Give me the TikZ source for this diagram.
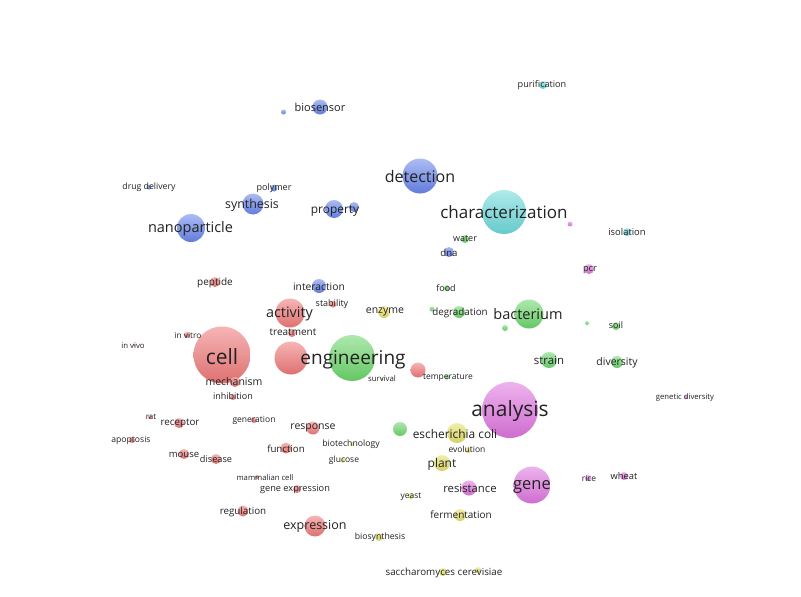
\documentclass[tikz,border=0pt]{standalone}
\usepackage{fontspec}
\setmainfont{Open Sans}
\pgfdeclarelayer{labels}
\pgfsetlayers{main,labels}
\definecolor{kred}{HTML}{EE6A6A}
\definecolor{kgreen}{HTML}{5CD25C}
\definecolor{kblue}{HTML}{5878EA}
\definecolor{kyellow}{HTML}{E4DE58}
\definecolor{kmag}{HTML}{DC66DC}
\definecolor{kcyan}{HTML}{5ED6D6}
\definecolor{ktext}{HTML}{222222}
\tikzset{
  bub/.style={circle, inner sep=0pt, draw=none, top color=#1!55!white, bottom color=#1!92!black, fill opacity=0.9},
  lbl/.style={inner sep=0pt, text=ktext, anchor=center}
}
% circle: name, x, y, radius, colour
\newcommand\kwb[5]{\node[bub=#5, minimum size={2*#4}] (#1) at (#2,#3) {};}
% label: name, x, y, size, text
\newcommand\kwl[5]{\begin{pgfonlayer}{labels}\node[lbl, font=\fontsize{#4}{#4}\selectfont] (#1) at (#2,#3) {#5};\end{pgfonlayer}}
\begin{document}
\begin{tikzpicture}[x=1pt,y=-1pt]
\fill[white] (0,0) rectangle (801,597);
\useasboundingbox (0,0) rectangle (801,597);
% ---------- blue cluster
\kwb{c-biosensor}{320}{107}{7.5}{kblue}\kwl{biosensor}{320}{107}{11}{biosensor}
\kwb{c-bdot}{283.5}{112}{2.5}{kblue}
\kwb{c-detection}{420}{176}{17.5}{kblue}\kwl{detection}{420}{176}{16}{detection}
\kwb{c-polymer}{274}{188}{3.5}{kblue}\kwl{polymer}{274}{188}{9}{polymer}
\kwb{c-drug}{149}{187}{2.5}{kblue}\kwl{drugdelivery}{149}{187}{8.7}{drug delivery}
\kwb{c-synthesis}{253}{204}{10.5}{kblue}\kwl{synthesis}{252}{205}{12.4}{synthesis}
\kwb{c-property}{334}{209}{9}{kblue}\kwl{property}{335}{211}{11.9}{property}
\kwb{c-prop2}{354}{207}{5}{kblue}
\kwb{c-nanoparticle}{191}{228}{14}{kblue}\kwl{nanoparticle}{190.5}{228.5}{14.5}{nanoparticle}
\kwb{c-interaction}{319}{286}{7}{kblue}\kwl{interaction}{319}{286.5}{10.3}{interaction}
\kwb{c-dna}{449}{252}{5}{kblue}\kwl{dna}{449}{252.5}{9.6}{dna}
% ---------- cyan cluster
\kwb{c-characterization}{504}{212}{22}{kcyan}\kwl{characterization}{504}{212.5}{17}{characterization}
\kwb{c-purification}{543}{85}{4}{kcyan}\kwl{purification}{542}{85.5}{9.1}{purification}
\kwb{c-isolation}{627}{232}{4}{kcyan}\kwl{isolation}{627}{231.5}{9.4}{isolation}
% ---------- magenta cluster
\kwb{c-mdot}{570}{224}{2.5}{kmag}
\kwb{c-pcr}{589}{269}{5}{kmag}\kwl{pcr}{590}{270}{9.3}{pcr}
\kwb{c-analysis}{510}{410}{28}{kmag}\kwl{analysis}{510}{411.5}{21}{analysis}
\kwb{c-gene}{532}{485}{18.5}{kmag}\kwl{gene}{532}{486.5}{16.5}{gene}
\kwb{c-resistance}{469}{488}{7.5}{kmag}\kwl{resistance}{470}{488.5}{11.3}{resistance}
\kwb{c-rice}{588}{478}{3}{kmag}\kwl{rice}{589}{478.5}{8.4}{rice}
\kwb{c-wheat}{624}{476}{4}{kmag}\kwl{wheat}{624}{476.5}{9.3}{wheat}
\kwb{c-genetic}{686}{397}{2}{kmag}\kwl{geneticdiversity}{685}{397.5}{7.7}{genetic diversity}
% ---------- green cluster
\kwb{c-engineering}{352}{358}{23}{kgreen}\kwl{engineering}{353}{359.5}{19}{engineering}
\kwb{c-bacterium}{529}{314}{14.5}{kgreen}\kwl{bacterium}{528}{314}{14.5}{bacterium}
\kwb{c-strain}{549}{360}{8}{kgreen}\kwl{strain}{549}{360}{11.4}{strain}
\kwb{c-diversity}{617}{362}{6}{kgreen}\kwl{diversity}{617}{362.5}{10.5}{diversity}
\kwb{c-water}{465}{239}{4}{kgreen}\kwl{water}{465}{238.5}{9}{water}
\kwb{c-food}{447}{288}{3}{kgreen}\kwl{food}{446}{288.5}{9}{food}
\kwb{c-degradation}{459}{312}{6}{kgreen}\kwl{degradation}{460}{312.5}{9.8}{degradation}
\kwb{c-gdot1}{432}{309}{2.5}{kgreen}
\kwb{c-gdot2}{505}{328}{3}{kgreen}
\kwb{c-gdot3}{587}{323}{2}{kgreen}
\kwb{c-soil}{616}{326}{4}{kgreen}\kwl{soil}{616}{325.5}{8.9}{soil}
\kwb{c-temperature}{447}{377}{2.5}{kgreen}\kwl{temperature}{448}{377.5}{8.5}{temperature}
\kwb{c-survival}{382}{379}{1.5}{kgreen}\kwl{survival}{382}{379}{7.8}{survival}
\kwb{c-gdot4}{400}{429}{7}{kgreen}
% ---------- yellow cluster
\kwb{c-enzyme}{384}{312}{6}{kyellow}\kwl{enzyme}{385}{312}{10.5}{enzyme}
\kwb{c-ecoli}{457}{433}{10}{kyellow}\kwl{escherichiacoli}{455}{434}{11.9}{escherichia coli}
\kwb{c-evolution}{468}{450}{3}{kyellow}\kwl{evolution}{467}{449.5}{8.5}{evolution}
\kwb{c-plant}{442}{463}{8}{kyellow}\kwl{plant}{442}{464}{12}{plant}
\kwb{c-yeast}{411}{496}{3}{kyellow}\kwl{yeast}{411}{496.5}{8.4}{yeast}
\kwb{c-fermentation}{460}{515}{6}{kyellow}\kwl{fermentation}{461}{515}{10}{fermentation}
\kwb{c-biosynthesis}{379}{537}{4}{kyellow}\kwl{biosynthesis}{380}{537.5}{8.7}{biosynthesis}
\kwb{c-sacch}{443}{572}{4}{kyellow}\kwl{saccharomyces}{444}{572.5}{9.8}{saccharomyces cerevisiae}
\kwb{c-ydot}{478}{570}{3}{kyellow}
\kwb{c-biotechnology}{352}{444}{2}{kyellow}\kwl{biotechnology}{351}{444.5}{8.7}{biotechnology}
\kwb{c-glucose}{343}{460}{2.5}{kyellow}\kwl{glucose}{344}{460.5}{8.5}{glucose}
% ---------- red cluster
\kwb{c-cell}{222}{355}{28.5}{kred}\kwl{cell}{222}{357}{21}{cell}
\kwb{c-rbig}{291}{358}{16.5}{kred}
\kwb{c-activity}{290}{313}{14.5}{kred}\kwl{activity}{289.5}{313.5}{14.4}{activity}
\kwb{c-treatment}{292}{333}{4}{kred}\kwl{treatment}{293}{332.5}{10}{treatment}
\kwb{c-stability}{333}{304}{3.5}{kred}\kwl{stability}{332}{304}{9}{stability}
\kwb{c-peptide}{215}{282}{5}{kred}\kwl{peptide}{215}{282.5}{10}{peptide}
\kwb{c-invitro}{187}{335}{3}{kred}\kwl{invitro}{188}{335.5}{8.3}{in vitro}
\kwb{c-invivo}{134}{345}{1.5}{kred}\kwl{invivo}{133}{345.5}{7.8}{in vivo}
\kwb{c-mechanism}{235}{382}{5}{kred}\kwl{mechanism}{234}{381.5}{10.5}{mechanism}
\kwb{c-inhibition}{233}{397}{3}{kred}\kwl{inhibition}{233}{396.5}{9}{inhibition}
\kwb{c-rred}{418}{370}{7.5}{kred}
\kwb{c-rat}{150}{417}{2}{kred}\kwl{rat}{151}{416.5}{8}{rat}
\kwb{c-receptor}{179}{423}{5}{kred}\kwl{receptor}{180}{423.5}{9.8}{receptor}
\kwb{c-generation}{254}{420}{3}{kred}\kwl{generation}{254}{420.5}{8.5}{generation}
\kwb{c-response}{313}{428}{6.5}{kred}\kwl{response}{313}{428}{10.5}{response}
\kwb{c-apoptosis}{132}{440}{3}{kred}\kwl{apoptosis}{131}{440.5}{8.6}{apoptosis}
\kwb{c-function}{286}{448}{5.5}{kred}\kwl{function}{286}{448.5}{9.7}{function}
\kwb{c-mouse}{184}{454}{5}{kred}\kwl{mouse}{184}{454.5}{9.5}{mouse}
\kwb{c-disease}{216}{459}{5}{kred}\kwl{disease}{216}{459.5}{9.2}{disease}
\kwb{c-mammalian}{257}{477}{2}{kred}\kwl{mammaliancell}{265}{477.5}{7.7}{mammalian cell}
\kwb{c-geneexpression}{297}{489}{4}{kred}\kwl{geneexpression}{295}{489.5}{9.2}{gene expression}
\kwb{c-regulation}{243}{511}{5.5}{kred}\kwl{regulation}{243}{511.5}{9.8}{regulation}
\kwb{c-expression}{315}{526}{10.5}{kred}\kwl{expression}{315}{526}{12.5}{expression}
\end{tikzpicture}
\end{document}
